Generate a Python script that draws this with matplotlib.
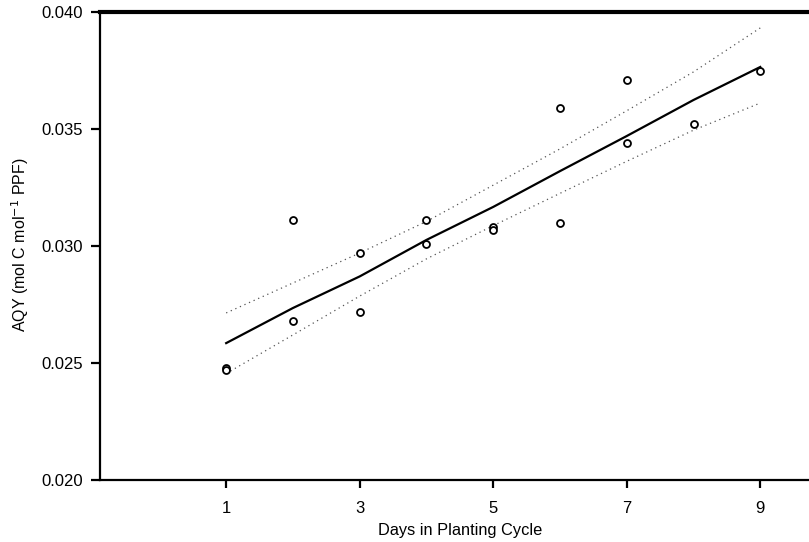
import matplotlib
matplotlib.use("Agg")
import matplotlib.pyplot as plt

plt.rcParams['font.family'] = ['Liberation Sans', 'DejaVu Sans']

# Observed data
days = [1, 1, 2, 2, 3, 3, 4, 4, 5, 5, 6, 6, 7, 7, 8, 9]
aqy = [0.0248, 0.0247, 0.0311, 0.0268, 0.0297, 0.0272, 0.0311, 0.0301,
       0.0308, 0.0307, 0.0359, 0.0310, 0.0371, 0.0344, 0.0352, 0.0375]

# Fitted line and confidence bands
fit_x = [1, 2, 3, 4, 5, 6, 7, 8, 9]
fit_y = [0.02585, 0.02735, 0.02870, 0.03026, 0.03167, 0.03320, 0.03470, 0.03624, 0.03765]
upper = [0.02714, 0.02842, 0.02970, 0.03105, 0.03260, 0.03415, 0.03578, 0.03744, 0.03932]
lower = [0.02455, 0.02620, 0.02786, 0.02945, 0.03087, 0.03225, 0.03362, 0.03495, 0.03611]

xticks = [1, 3, 5, 7, 9]
yticks = [0.020, 0.025, 0.030, 0.035, 0.040]

W, H = 809, 542
fig = plt.figure(figsize=(W / 100, H / 100), dpi=100)
ax = fig.add_axes([100 / W, (H - 480) / H, 709 / W, 468 / H])

ax.plot(fit_x, upper, color='#555555', lw=0.9, linestyle=(0, (1, 3)))
ax.plot(fit_x, lower, color='#555555', lw=0.9, linestyle=(0, (1, 3)))
ax.plot(fit_x, fit_y, color='black', lw=1.6)
ax.plot(days, aqy, linestyle='none', marker='o', markersize=5,
        markerfacecolor='white', markeredgecolor='black', markeredgewidth=1.3)

ax.set_xlim(-0.89, 9.73)
ax.set_ylim(0.020, 0.040)
ax.set_xticks(xticks)
ax.set_xticklabels([str(t) for t in xticks])
ax.set_yticks(yticks)
ax.set_yticklabels([f"{t:.3f}" for t in yticks])

ax.spines['right'].set_visible(False)
ax.spines['top'].set_linewidth(3.0)
ax.spines['left'].set_linewidth(1.6)
ax.spines['bottom'].set_linewidth(1.6)
ax.tick_params(axis='y', direction='out', length=6.5, width=1.6, pad=5.5, labelsize=12)
ax.tick_params(axis='x', direction='out', length=6, width=1.6, pad=9, labelsize=12)

fig.text(460 / W, 1 - 530 / H, 'Days in Planting Cycle', ha='center', va='center', fontsize=11.8)
fig.text(20 / W, 1 - 245 / H, 'AQY (mol C mol$^{-1}$ PPF)', ha='center', va='center',
         rotation=90, fontsize=11.5)

fig.savefig('out.png', dpi=100)
